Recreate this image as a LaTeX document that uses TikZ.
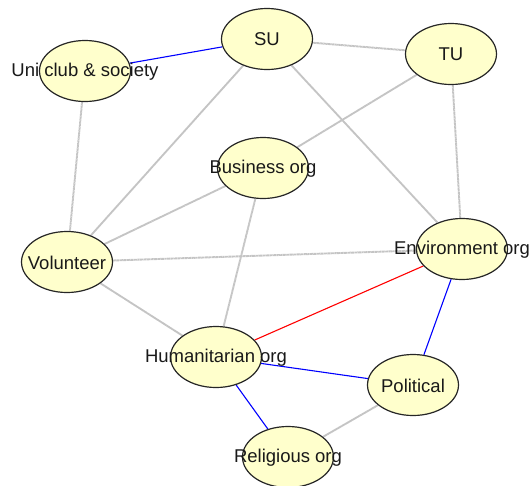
\documentclass[tikz,border=0pt]{standalone}
\usepackage{fontspec}
\setmainfont{Liberation Sans}
\usetikzlibrary{shapes.geometric,backgrounds}
\definecolor{nodefill}{RGB}{255,255,204}
\definecolor{tiegray}{RGB}{196,196,196}
\tikzset{
  org/.style={ellipse, draw=black!85, line width=1.2pt, fill=nodefill,
    minimum width=91pt, minimum height=61pt, inner sep=0pt,
    label={[font=\fontsize{18.5}{20}\selectfont, text=black!90, yshift=-0.5pt]center:#1}},
  weak/.style={draw=tiegray, line width=1.9pt, dash pattern=on 1pt off 0.35pt},
  bluetie/.style={draw=blue, line width=1.1pt},
  redtie/.style={draw=red, line width=1.1pt}
}
\begin{document}
\begin{tikzpicture}[x=1pt,y=-1pt]
\useasboundingbox (0,0) rectangle (530,485);
\node[org={Uni club \& society}] (uni) at (85,71) {};
\node[org={SU}] (su) at (267,39) {};
\node[org={TU}] (tu) at (451,54) {};
\node[org={Business org}] (bus) at (263,168) {};
\node[org={Volunteer}] (vol) at (67,262) {};
\node[org={Environment org}] (env) at (462,249) {};
\node[org={Humanitarian org}] (hum) at (216,357) {};
\node[org={Political}] (pol) at (413,385) {};
\node[org={Religious org}] (rel) at (288,457) {};
\begin{pgfonlayer}{background}
\draw[weak] (su) -- (tu);
\draw[weak] (su) -- (vol);
\draw[weak] (su) -- (env);
\draw[weak] (tu) -- (bus);
\draw[weak] (tu) -- (env);
\draw[weak] (uni) -- (vol);
\draw[weak] (bus) -- (vol);
\draw[weak] (bus) -- (hum);
\draw[weak] (vol) -- (env);
\draw[weak] (vol) -- (hum);
\draw[weak] (pol) -- (rel);
\draw[bluetie] (uni) -- (su);
\draw[redtie] (env) -- (hum);
\draw[bluetie] (env) -- (pol);
\draw[bluetie] (hum) -- (pol);
\draw[bluetie] (hum) -- (rel);
\end{pgfonlayer}
\end{tikzpicture}
\end{document}
